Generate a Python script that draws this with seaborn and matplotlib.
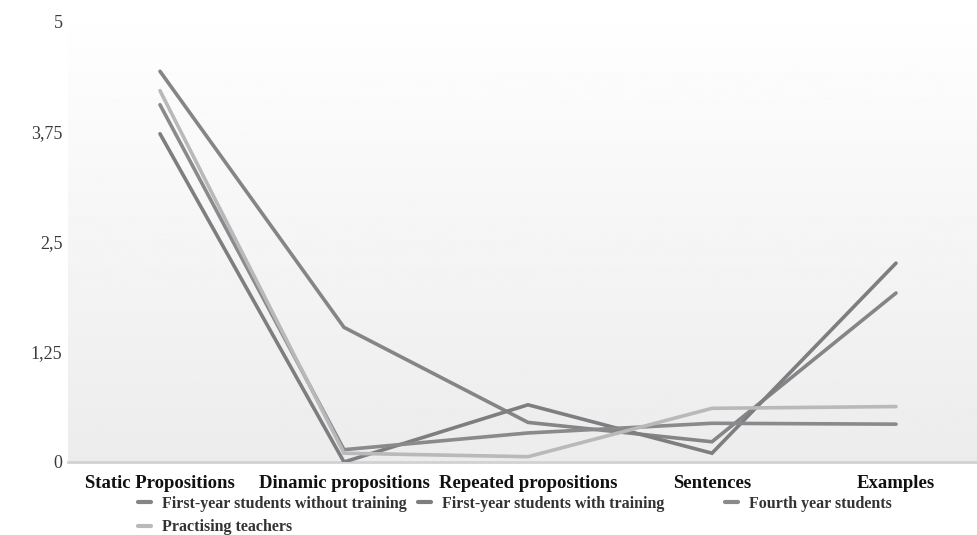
import numpy as np
import pandas as pd
import matplotlib
matplotlib.use("Agg")
import matplotlib.pyplot as plt
import seaborn as sns
from matplotlib.lines import Line2D

categories = ["Static Propositions", "Dinamic propositions", "Repeated propositions", "Sentences", "Examples"]
series_names = ["First-year students without training", "First-year students with training",
                "Fourth year students", "Practising teachers"]
without_training = [4.44, 1.53, 0.45, 0.23, 1.92]
with_training = [3.73, 0.00, 0.65, 0.10, 2.26]
fourth_year = [4.06, 0.14, 0.33, 0.44, 0.43]
teachers = [4.22, 0.10, 0.06, 0.61, 0.63]
y_ticks = [0, 1.25, 2.5, 3.75, 5]
y_tick_labels = ["0", "1,25", "2,5", "3,75", "5"]

values = [without_training, with_training, fourth_year, teachers]
rows = []
for name, vals in zip(series_names, values):
    for i, v in enumerate(vals):
        rows.append({"idx": i, "value": v, "series": name})
df = pd.DataFrame(rows)

sns.set_theme(style="white")
plt.rcParams['font.family'] = ['Liberation Serif', 'DejaVu Serif']

fig = plt.figure(figsize=(9.78, 5.35), dpi=100)
ax = fig.add_axes([68 / 978, 1 - 462 / 535, (978 - 68) / 978, 462 / 535])

# gradient background
grad = np.linspace(1.0, 0.925, 256).reshape(-1, 1)
ax.imshow(grad, extent=[0, 1, 0, 1], transform=ax.transAxes, cmap="gray",
          vmin=0, vmax=1, aspect="auto", zorder=0)

palette = {series_names[0]: "#858587", series_names[1]: "#7e7e80",
           series_names[2]: "#8a8a8c", series_names[3]: "#b9b9bb"}
sns.lineplot(data=df, x="idx", y="value", hue="series", palette=palette, ax=ax,
             linewidth=2.6, sort=False, legend=False, zorder=3)
for ln in ax.get_lines():
    ln.set_solid_capstyle("round")
    ln.set_solid_joinstyle("miter")

ax.set_xlim(-0.5, 4 + (978 - 896) / 184)
ax.set_ylim(0, 5.25)
ax.set_yticks(y_ticks)
ax.set_yticklabels(y_tick_labels, fontsize=13, color="#3a3a3a")
ax.set_xticks(range(len(categories)))
ax.set_xticklabels(categories, fontsize=13.5, fontweight="bold", color="#111111")
ax.tick_params(axis="x", length=0, pad=9)
ax.tick_params(axis="y", length=0, pad=4)
ax.set_xlabel("")
ax.set_ylabel("")
for s in ["top", "right", "left"]:
    ax.spines[s].set_visible(False)
ax.spines["bottom"].set_color("#d2d2d2")
ax.spines["bottom"].set_linewidth(2)
ax.grid(False)

leg_kw = dict(loc="upper left", frameon=False, handlelength=0.8, handletextpad=0.7,
              labelspacing=0.45, borderaxespad=0, borderpad=0,
              prop={"family": ["Liberation Serif"], "weight": "bold", "size": 11.5})
groups = [([0, 3], 138), ([1], 418), ([2], 725)]
for idxs, xpos in groups:
    handles = [Line2D([0], [0], color=palette[series_names[i]], lw=3) for i in idxs]
    labels = [series_names[i] for i in idxs]
    leg = fig.legend(handles, labels, bbox_to_anchor=(xpos / 978, 1 - 496 / 535), **leg_kw)
    for t in leg.get_texts():
        t.set_color("#333333")

fig.savefig("out.png", dpi=100, facecolor="white")
